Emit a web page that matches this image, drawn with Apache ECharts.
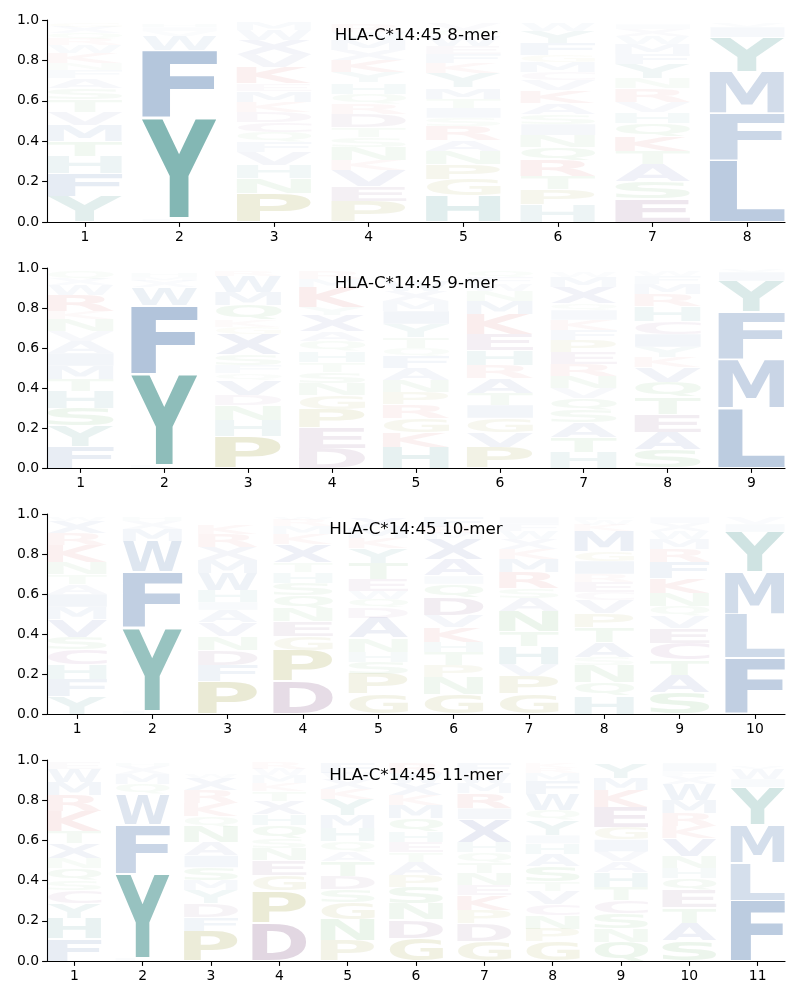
<!DOCTYPE html>
<html>
<head>
<meta charset="utf-8">
<script src="https://cdn.jsdelivr.net/npm/echarts@6/dist/echarts.min.js"></script>
<style>
html,body{margin:0;padding:0;background:#fff;}
#chart{width:800px;height:1000px;}
</style>
</head>
<body>
<div id="chart"></div>
<script>
// ---------------- DATA ----------------
const titles = ['HLA-C*14:45 8-mer', 'HLA-C*14:45 9-mer', 'HLA-C*14:45 10-mer', 'HLA-C*14:45 11-mer'];
const yTicks = [0, 0.2, 0.4, 0.6, 0.8, 1.0];

// each column: [letter, height] from bottom to top
const logo8 = [
  [['Y',.125],['F',.115],['H',.085],['T',.075],['M',.08],['V',.065],['T',.06],['S',.055],['A',.05],['F',.04],['N',.035],['K',.05],['W',.04],['R',.03],['Q',.03],['X',.03],['G',.02]],
  [['L',.015],['Y',.50],['F',.335],['W',.07],['V',.025],['I',.02],['H',.015]],
  [['P',.14],['N',.075],['H',.065],['V',.065],['F',.05],['Q',.05],['C',.05],['D',.05],['K',.05],['M',.055],['E',.035],['K',.08],['V',.065],['X',.07],['W',.05],['M',.04]],
  [['P',.1],['E',.075],['V',.08],['K',.05],['N',.065],['S',.05],['T',.05],['D',.065],['R',.05],['Q',.05],['H',.055],['Y',.05],['K',.06],['X',.05],['M',.05],['W',.04],['R',.04]],
  [['H',.13],['G',.08],['P',.075],['N',.065],['A',.055],['R',.07],['S',.04],['I',.05],['T',.045],['M',.055],['Y',.07],['K',.05],['F',.045],['E',.04],['W',.05],['Q',.03],['V',.035]],
  [['H',.085],['P',.075],['T',.065],['R',.08],['Q',.065],['N',.06],['I',.055],['S',.05],['A',.055],['K',.06],['V',.05],['C',.04],['M',.05],['G',.035],['F',.06],['Y',.06],['W',.04]],
  [['E',.115],['S',.085],['A',.085],['T',.065],['K',.075],['Q',.065],['H',.055],['V',.05],['R',.065],['N',.05],['Y',.07],['F',.05],['M',.05],['W',.04],['X',.035],['I',.025]],
  [['L',.305],['F',.235],['M',.205],['Y',.17],['I',.05],['V',.02]]
];
const logo9 = [
  [['F',.11],['Y',.1],['S',.09],['H',.085],['T',.06],['M',.065],['I',.065],['A',.06],['V',.05],['N',.06],['K',.04],['R',.08],['W',.05],['X',.03],['Q',.04]],
  [['L',.01],['Y',.46],['F',.345],['W',.09],['X',.03],['M',.02],['H',.02]],
  [['P',.16],['H',.08],['N',.075],['D',.05],['V',.075],['Q',.035],['F',.04],['S',.055],['X',.1],['G',.035],['K',.035],['Q',.075],['M',.065],['W',.08],['R',.025]],
  [['D',.1],['E',.1],['P',.095],['G',.07],['N',.06],['S',.055],['T',.05],['H',.055],['Q',.05],['A',.05],['X',.08],['Y',.04],['K',.1],['M',.04],['R',.04]],
  [['H',.105],['K',.075],['G',.07],['R',.07],['P',.06],['N',.06],['A',.06],['F',.06],['Q',.04],['T',.055],['Y',.065],['I',.065],['M',.05],['X',.05],['W',.05]],
  [['P',.105],['V',.075],['G',.07],['I',.065],['T',.06],['A',.075],['R',.065],['H',.075],['E',.08],['K',.1],['M',.065],['N',.05],['W',.035],['F',.035],['Q',.03]],
  [['H',.08],['T',.075],['A',.075],['S',.06],['Q',.06],['V',.05],['N',.06],['R',.06],['E',.06],['P',.06],['F',.05],['K',.05],['I',.05],['Q',.035],['X',.08],['M',.05],['W',.025]],
  [['S',.09],['A',.09],['E',.09],['T',.085],['Q',.075],['V',.075],['K',.05],['Y',.05],['I',.065],['C',.065],['H',.075],['R',.06],['M',.05],['F',.04],['W',.025]],
  [['L',.3],['M',.245],['F',.235],['Y',.155],['I',.045],['V',.015]]
];
const logo10 = [
  [['Y',.09],['F',.085],['H',.075],['C',.075],['S',.06],['V',.09],['M',.06],['I',.065],['A',.05],['T',.05],['N',.06],['K',.085],['R',.06],['X',.06],['W',.02]],
  [['L',.01],['Y',.42],['F',.28],['W',.155],['M',.06],['X',.04],['H',.02]],
  [['P',.165],['F',.08],['D',.075],['N',.07],['V',.07],['A',.06],['I',.04],['H',.06],['W',.085],['M',.065],['X',.065],['R',.065],['K',.045]],
  [['D',.165],['P',.155],['G',.07],['E',.075],['N',.065],['Q',.065],['S',.06],['H',.055],['T',.05],['X',.09],['K',.05],['M',.04],['R',.03],['W',.015]],
  [['G',.1],['P',.1],['S',.06],['H',.05],['N',.07],['A',.1],['D',.05],['Q',.045],['W',.04],['E',.06],['T',.08],['Y',.075],['K',.05],['M',.05],['X',.055]],
  [['G',.1],['N',.085],['P',.06],['T',.065],['H',.05],['K',.075],['V',.06],['D',.09],['Q',.065],['I',.04],['A',.085],['X',.1],['M',.03],['R',.03],['F',.05]],
  [['G',.1],['P',.09],['V',.06],['H',.09],['T',.075],['N',.1],['A',.065],['S',.05],['R',.08],['M',.065],['K',.05],['X',.05],['W',.04],['F',.035],['I',.035]],
  [['H',.09],['Q',.07],['N',.085],['S',.04],['A',.075],['T',.075],['P',.07],['V',.065],['C',.04],['E',.05],['R',.04],['I',.065],['G',.05],['M',.1],['K',.03],['W',.025],['F',.015]],
  [['S',.105],['A',.09],['T',.075],['C',.085],['E',.075],['V',.06],['Q',.05],['N',.065],['K',.075],['F',.08],['R',.065],['M',.05],['W',.04],['X',.04],['I',.03]],
  [['F',.28],['L',.22],['M',.21],['Y',.2],['I',.04],['V',.03]]
];
const logo11 = [
  [['F',.11],['H',.1],['Y',.075],['C',.065],['S',.05],['Q',.06],['N',.05],['X',.075],['T',.06],['K',.1],['R',.08],['M',.065],['W',.065],['E',.03]],
  [['L',.01],['Y',.425],['F',.245],['W',.15],['Q',.05],['M',.05],['X',.04],['H',.015]],
  [['P',.15],['F',.07],['D',.065],['Y',.065],['M',.05],['S',.065],['I',.06],['A',.065],['N',.08],['Q',.05],['K',.065],['R',.065],['X',.06],['W',.02]],
  [['D',.19],['P',.16],['G',.075],['E',.075],['N',.06],['S',.05],['Q',.065],['H',.055],['X',.065],['T',.05],['K',.04],['M',.04],['W',.03],['R',.03]],
  [['P',.1],['N',.105],['G',.085],['S',.065],['D',.065],['T',.075],['A',.05],['Q',.05],['H',.065],['M',.065],['Y',.08],['K',.05],['X',.05],['W',.03],['F',.05]],
  [['G',.115],['D',.09],['N',.08],['S',.08],['P',.06],['A',.065],['T',.05],['E',.05],['H',.055],['Q',.065],['M',.065],['K',.05],['X',.06],['W',.05],['R',.05]],
  [['G',.1],['D',.085],['P',.065],['K',.075],['E',.05],['N',.06],['T',.055],['Q',.05],['H',.05],['X',.115],['I',.055],['R',.075],['M',.05],['W',.05],['F',.05]],
  [['G',.095],['P',.065],['N',.065],['C',.055],['V',.065],['T',.05],['S',.075],['A',.06],['H',.055],['I',.04],['Y',.075],['Q',.05],['W',.08],['F',.065],['M',.04],['R',.025],['K',.025]],
  [['Q',.095],['N',.065],['S',.075],['C',.065],['T',.065],['H',.075],['A',.055],['V',.05],['I',.06],['G',.06],['E',.1],['K',.085],['M',.06],['Y',.075]],
  [['S',.1],['A',.09],['T',.075],['E',.085],['Q',.06],['H',.05],['N',.06],['V',.09],['K',.06],['R',.065],['M',.065],['W',.08],['X',.04],['F',.025],['I',.04]],
  [['F',.3],['L',.19],['M',.19],['Y',.185],['I',.04],['W',.05],['V',.015]]
];
const logos = [logo8, logo9, logo10, logo11];

// ---------------- STYLE ----------------
const FONT = 'bold 100px "DejaVu Sans"';
const LABEL_FONT = 'DejaVu Sans';
const baseColor = {
  F:'#26599b', L:'#26599b', M:'#26599b', I:'#26599b', W:'#26599b',
  V:'#3f52a0', A:'#3f52a0', X:'#3f52a0',
  Y:'#12756f', H:'#17797a',
  P:'#808000', G:'#808000',
  D:'#6a2d6a', E:'#6a2d6a', C:'#7a307a',
  K:'#c83c3c', R:'#c83c3c',
  N:'#3a9a3a', Q:'#3a9a3a', S:'#3a9a3a', T:'#3a9a3a'
};
function colorFor(ch, h) {
  const hex = baseColor[ch] || '#555555';
  const r = parseInt(hex.slice(1,3),16), g = parseInt(hex.slice(3,5),16), b = parseInt(hex.slice(5,7),16);
  const a = Math.min(1, Math.max(0.02, 1.06 * h - 0.01));
  return 'rgba(' + r + ',' + g + ',' + b + ',' + a.toFixed(3) + ')';
}

// glyph ink metrics (middle baseline, left align)
const mctx = document.createElement('canvas').getContext('2d');
const glyphCache = {};
function glyph(ch) {
  if (glyphCache[ch]) return glyphCache[ch];
  mctx.font = FONT;
  mctx.textBaseline = 'middle';
  mctx.textAlign = 'left';
  const m = mctx.measureText(ch);
  const g = { L: m.actualBoundingBoxLeft, R: m.actualBoundingBoxRight, A: m.actualBoundingBoxAscent, D: m.actualBoundingBoxDescent };
  g.w = g.L + g.R; g.h = g.A + g.D;
  glyphCache[ch] = g;
  return g;
}

const HALF = 0.395;
function makeRender(letters) {
  return function (params, api) {
    const x = api.value(0), y0 = api.value(1), y1 = api.value(2), h = api.value(3);
    const ch = letters[params.dataIndex];
    const pad = (y1 - y0) * 0.02;
    const bl = api.coord([x - HALF, y0 + pad]);
    const tr = api.coord([x + HALF, y1 - pad]);
    const w = tr[0] - bl[0], hh = bl[1] - tr[1];
    if (hh <= 0.3) return null;
    const g = glyph(ch);
    const sx = w / g.w, sy = hh / g.h;
    return {
      type: 'text', silent: true,
      x: bl[0] + sx * g.L, y: tr[1] + sy * g.A,
      scaleX: sx, scaleY: sy,
      style: { text: ch, font: FONT, fill: colorFor(ch, h), align: 'left', verticalAlign: 'middle' }
    };
  };
}

// ---------------- LAYOUT ----------------
const gridTops = [20, 268, 514, 760];
const gridHeights = [202, 200, 200, 201];
const gridLeft = 47, gridWidth = 738;

const grid = [], xAxis = [], yAxis = [], series = [], title = [];
logos.forEach(function (logo, k) {
  const n = logo.length;
  const positions = [];
  for (let i = 1; i <= n; i++) positions.push(i);
  grid.push({ left: gridLeft, top: gridTops[k], width: gridWidth, height: gridHeights[k], containLabel: false, outerBoundsMode: 'none' });
  xAxis.push({
    gridIndex: k, type: 'value', min: 0.6, max: n + 0.4,
    splitLine: { show: false },
    axisLine: { show: true, onZero: false, lineStyle: { color: '#000', width: 1.1 } },
    axisTick: { show: true, length: 4.9, lineStyle: { color: '#000', width: 1.1 }, customValues: positions },
    axisLabel: { show: true, color: '#000', fontSize: 13.9, fontFamily: LABEL_FONT, margin: 8, customValues: positions, formatter: function (v) { return String(Math.round(v)); } }
  });
  yAxis.push({
    gridIndex: k, type: 'value', min: 0, max: 1, interval: 0.2,
    splitLine: { show: false },
    axisLine: { show: true, lineStyle: { color: '#000', width: 1.1 } },
    axisTick: { show: true, length: 4.9, lineStyle: { color: '#000', width: 1.1 } },
    axisLabel: { show: true, color: '#000', fontSize: 13.9, fontFamily: LABEL_FONT, margin: 8, formatter: function (v) { return v.toFixed(1); } }
  });
  const data = [], letters = [];
  logo.forEach(function (col, ci) {
    let acc = 0;
    col.forEach(function (item) {
      data.push([ci + 1, acc, acc + item[1], item[1]]);
      letters.push(item[0]);
      acc += item[1];
    });
  });
  series.push({
    type: 'custom', xAxisIndex: k, yAxisIndex: k, silent: true, animation: false,
    encode: { x: 0, y: [1, 2] },
    renderItem: makeRender(letters),
    data: data
  });
  title.push({
    text: titles[k], left: gridLeft + gridWidth / 2, top: gridTops[k] + 7.5, textAlign: 'center', padding: 0,
    textStyle: { fontSize: 16.7, fontWeight: 'normal', color: '#000', fontFamily: LABEL_FONT }
  });
});

const chart = echarts.init(document.getElementById('chart'), null, { renderer: 'canvas' });
chart.setOption({
  backgroundColor: '#ffffff',
  animation: false,
  title: title,
  grid: grid, xAxis: xAxis, yAxis: yAxis, series: series
});
</script>
</body>
</html>
